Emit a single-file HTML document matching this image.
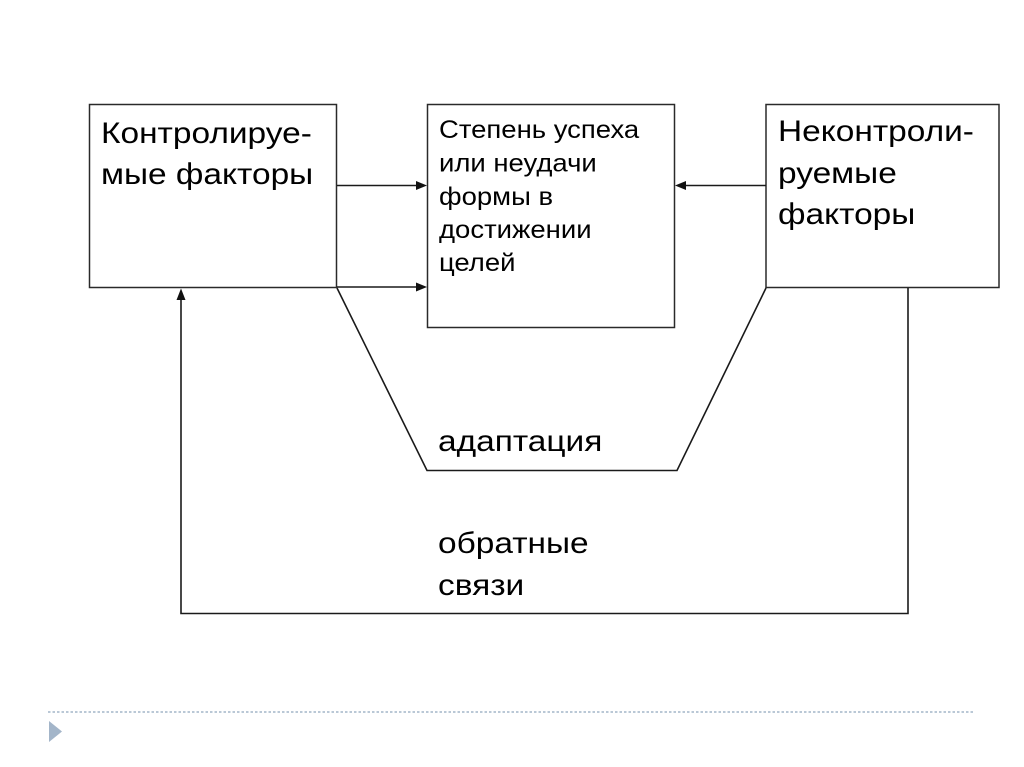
<!DOCTYPE html>
<html>
<head>
<meta charset="utf-8">
<style>
  html, body { margin: 0; padding: 0; background: #ffffff; }
  body { width: 1024px; height: 767px; overflow: hidden; }
  svg { display: block; }
  text { font-family: "Liberation Sans", Arial, sans-serif; fill: #000; }
</style>
</head>
<body>
<svg width="1024" height="767" viewBox="0 0 1024 767" xmlns="http://www.w3.org/2000/svg">
  <rect x="0" y="0" width="1024" height="767" fill="#ffffff"/>

  <!-- Boxes -->
  <g fill="none" stroke="#2a2a2a" stroke-width="1.5">
    <rect x="89.5" y="104.5" width="247" height="183"/>
    <rect x="427.5" y="104.5" width="247" height="223"/>
    <rect x="766" y="104.5" width="233" height="183"/>
  </g>

  <!-- Connectors -->
  <g fill="none" stroke="#1a1a1a" stroke-width="1.6">
    <line x1="337" y1="185.5" x2="418" y2="185.5"/>
    <line x1="337" y1="287" x2="418" y2="287"/>
    <line x1="766" y1="185.5" x2="684" y2="185.5"/>
    <polyline points="337,288 427,470.5 677,470.5 766,288"/>
    <polyline points="908,288 908,613.5 181,613.5 181,298"/>
  </g>

  <!-- Arrowheads -->
  <g fill="#111">
    <polygon points="427,185.5 416,181 416,190"/>
    <polygon points="427,287 416,282.5 416,291.5"/>
    <polygon points="675,185.5 686,181 686,190"/>
    <polygon points="181,288.5 176.5,300 185.5,300"/>
  </g>

  <!-- Left box text -->
  <text transform="translate(101,143) scale(1.115,1)" font-size="30">Контролируе-</text>
  <text transform="translate(101,184) scale(1.115,1)" font-size="30">мые факторы</text>

  <!-- Center box text -->
  <g font-size="25">
    <text transform="translate(439,138) scale(1.1,1)">Степень успеха</text>
    <text transform="translate(439,171.5) scale(1.1,1)">или неудачи</text>
    <text transform="translate(439,205) scale(1.1,1)">формы в</text>
    <text transform="translate(439,238) scale(1.1,1)">достижении</text>
    <text transform="translate(439,271) scale(1.1,1)">целей</text>
  </g>

  <!-- Right box text -->
  <text transform="translate(778,141) scale(1.115,1)" font-size="30">Неконтроли-</text>
  <text transform="translate(778,183) scale(1.115,1)" font-size="30">руемые</text>
  <text transform="translate(778,224) scale(1.115,1)" font-size="30">факторы</text>

  <!-- Labels -->
  <text transform="translate(438,451) scale(1.115,1)" font-size="30">адаптация</text>
  <text transform="translate(438,553) scale(1.115,1)" font-size="30">обратные</text>
  <text transform="translate(438,595) scale(1.115,1)" font-size="30">связи</text>

  <!-- Slide footer decoration -->
  <line x1="48" y1="712" x2="975" y2="712" stroke="#a3b6c9" stroke-width="1.6" stroke-dasharray="2.5 2"/>
  <polygon points="49,721 62,731.5 49,742" fill="#a3b5c9"/>
</svg>
</body>
</html>
